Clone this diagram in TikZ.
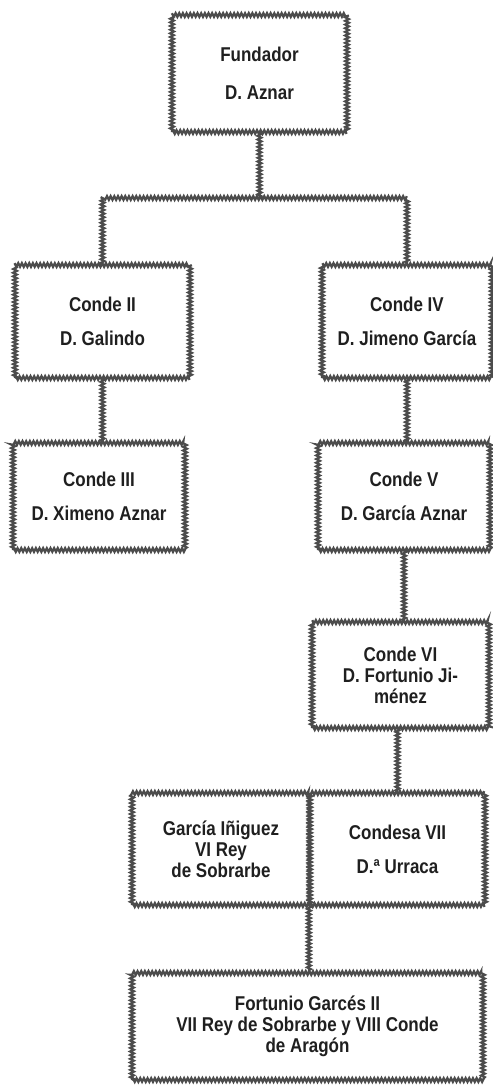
\documentclass[tikz,border=0pt]{standalone}
\usepackage{fontspec}
\setmainfont{Liberation Sans}[FakeStretch=0.85]
\usetikzlibrary{decorations.pathmorphing}

\def\d{0.025}
\tikzset{
	rope/.style={draw=black!70, line width=1.6pt, decorate,
		decoration={zigzag, segment length=2.6pt, amplitude=1.3pt}},
	feld/.style 2 args={rope, fill=white, inner sep=0pt, align=center,
		minimum width={#1*\d cm}, minimum height={#2*\d cm},
		text=black!88, font=\bfseries\fontsize{14.2}{15}\selectfont}
}

\begin{document}
\begin{tikzpicture}[x=\d cm, y=-\d cm]
\useasboundingbox (0,0) rectangle (493,1086);

\node[feld={175}{117}] (fundador) at (259.5,73.5) {Fundador\\[12pt]D. Aznar};

\node[feld={175}{113}] (condeII) at (102.5,321.5) {Conde II\\[9pt]D. Galindo};
\node[feld={172}{107}] (condeIII) at (99,496.5) {Conde III\\[9pt]D. Ximeno Aznar};

\node[feld={170}{113}] (condeIV) at (407,321.5) {Conde IV\\[9pt]D. Jimeno García};
\node[feld={172}{107}] (condeV) at (404,496.5) {Conde V\\[9pt]D. García Aznar};
\node[feld={177}{106}] (condeVI) at (400.5,675) {Conde VI\\D. Fortunio Ji-\\ménez};

\node[feld={178}{112}] (garcia) at (221,849) {García Iñiguez\\VI Rey\\de Sobrarbe};
\node[feld={175}{112}] (urraca) at (397.5,849) {Condesa VII\\[9pt]D.ª Urraca};

\node[feld={351}{107}] (fortunio) at (307.5,1026.5)
	{Fortunio Garcés II\\VII Rey de Sobrarbe y VIII Conde\\de Aragón};

% Verbindungen
\coordinate (ast) at (259.5,198);
\draw[rope] (fundador.south) -- (ast);
\draw[rope] (condeII.north) |- (ast) -| (condeIV.north);

\draw[rope] (condeII.south) -- (condeII.south |- condeIII.north);
\draw[rope] (condeIV.south) -- (condeIV.south |- condeV.north);
\draw[rope] (condeV.south) -- (condeV.south |- condeVI.north);
\draw[rope] (urraca.north |- condeVI.south) -- (urraca.north);
\draw[rope] (urraca.south west) -- (urraca.south west |- fortunio.north);

\end{tikzpicture}
\end{document}
